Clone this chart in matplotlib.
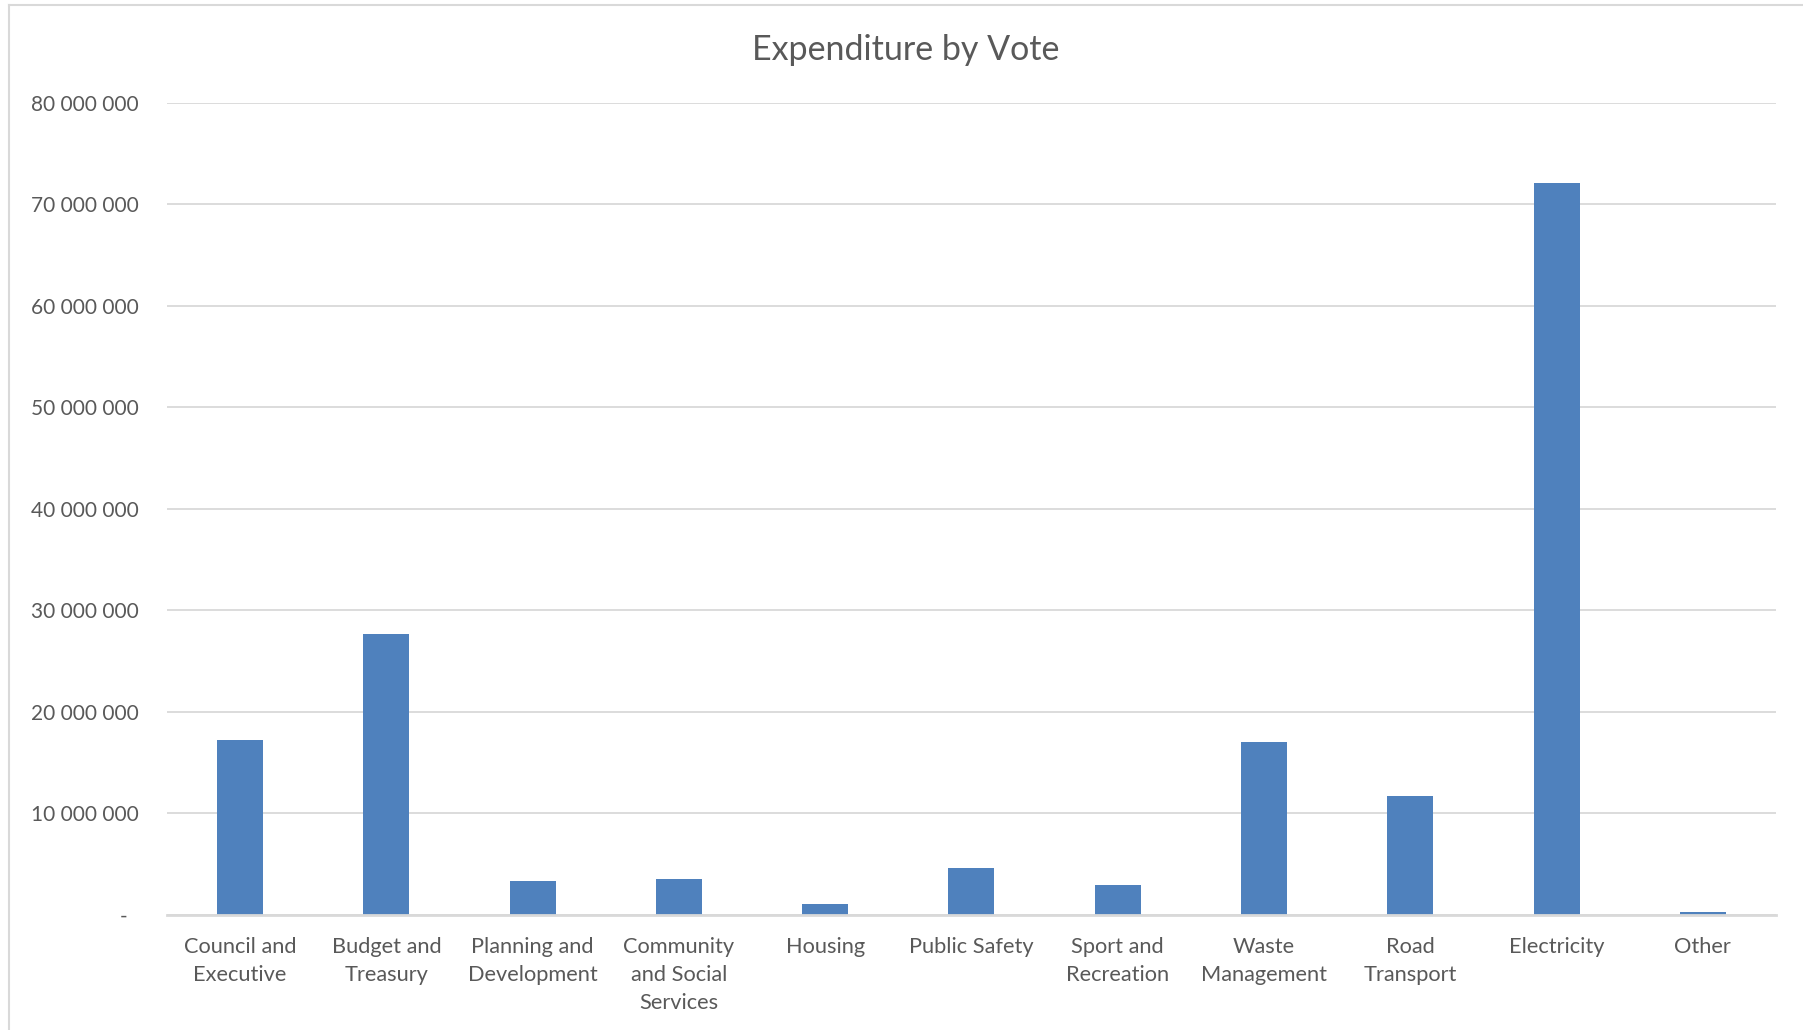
import matplotlib.pyplot as plt
from matplotlib.ticker import FuncFormatter, MultipleLocator
from matplotlib.lines import Line2D

# expenditure per vote (Rand)
votes = ['Council and\nExecutive', 'Budget and\nTreasury', 'Planning and\nDevelopment',
         'Community\nand Social\nServices', 'Housing', 'Public Safety',
         'Sport and\nRecreation', 'Waste\nManagement', 'Road\nTransport',
         'Electricity', 'Other']
spend = [17170000, 27650000, 3320000, 3480000, 1000000, 4580000,
         2950000, 17030000, 11710000, 72070000, 220000]

bar_col = '#4F81BD'
txt_col = '#595959'
grid_col = '#D9D9D9'

plt.rcParams['font.family'] = ['Lato', 'DejaVu Sans']

fig = plt.figure(figsize=(18.03, 10.30), dpi=100)
ax = fig.add_axes([0.0926, 0.1121, 0.8924, 0.7881])

x = range(len(votes))
ax.bar(x, spend, width=0.315, color=bar_col, zorder=3)

ax.set_xlim(-0.5, len(votes) - 0.5)
ax.set_ylim(0, 80000000)
ax.yaxis.set_major_locator(MultipleLocator(10000000))


def fmt(v, pos):
    if v == 0:
        return '-  '
    return '{:,.0f}'.format(v).replace(',', ' ')


ax.yaxis.set_major_formatter(FuncFormatter(fmt))
ax.set_xticks(list(x))
ax.set_xticklabels(votes, linespacing=1.5, fontsize=15.7)

ax.grid(axis='y', color=grid_col, linewidth=1.3, zorder=0)
for s in ['top', 'right', 'left']:
    ax.spines[s].set_visible(False)
ax.spines['bottom'].set_color(grid_col)
ax.spines['bottom'].set_linewidth(2)
ax.spines['bottom'].set_zorder(4)

ax.tick_params(axis='both', length=0, labelcolor=txt_col)
ax.tick_params(axis='y', pad=20.5, labelsize=15)
ax.tick_params(axis='x', pad=16)

fig.text(0.5025, 0.951, 'Expenditure by Vote', ha='center', va='center',
         fontsize=24.5, color=txt_col)

# outer chart frame
fig.add_artist(Line2D([0.005, 0.005], [0, 0.995], transform=fig.transFigure,
                      color=grid_col, linewidth=1.5))
fig.add_artist(Line2D([0.005, 1], [0.995, 0.995], transform=fig.transFigure,
                      color=grid_col, linewidth=1.5))

fig.savefig('out.png', dpi=100)
